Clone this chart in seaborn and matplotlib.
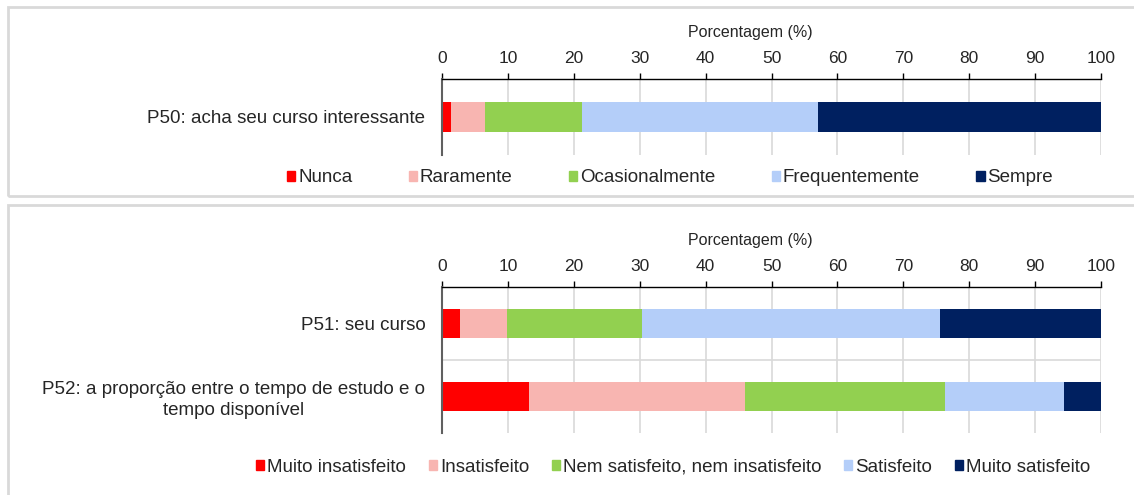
import numpy as np
import pandas as pd
import matplotlib
matplotlib.use('Agg')
import matplotlib.pyplot as plt
import seaborn as sns
from matplotlib.patches import Rectangle, Patch

sns.set_theme(style="white")
plt.rcParams['font.family'] = ['Liberation Sans', 'DejaVu Sans']
plt.rcParams['font.size'] = 13

# Data (percentages)
freq_levels = ['Nunca', 'Raramente', 'Ocasionalmente', 'Frequentemente', 'Sempre']
freq_items = ['P50: acha seu curso interessante']
p50_values = [1.4, 5.2, 14.7, 35.8, 42.9]

sat_levels = ['Muito insatisfeito', 'Insatisfeito', 'Nem satisfeito, nem insatisfeito',
              'Satisfeito', 'Muito satisfeito']
sat_items = ['P51: seu curso',
             'P52: a proporção entre o tempo de estudo e o\ntempo disponível']
p51_values = [2.8, 7.0, 20.5, 45.3, 24.4]
p52_values = [13.2, 32.8, 30.4, 18.0, 5.6]

colors = ['#FF0000', '#F8B5B1', '#92D050', '#B4CEF9', '#002060']
x_ticks = list(range(0, 101, 10))
x_label = 'Porcentagem (%)'

W, H = 1134, 495
fig = plt.figure(figsize=(W / 100, H / 100), dpi=100)


def draw_panel(ax, items, rows, levels, label_y):
    df = pd.DataFrame(rows, columns=levels)
    cum = df[levels].cumsum(axis=1)
    cum['item'] = items
    # stacked bars: draw cumulative totals from the largest down
    for lvl, col in reversed(list(zip(levels, colors))):
        sns.barplot(data=cum, x=lvl, y='item', order=items, color=col,
                    orient='h', width=0.4, saturation=1, errorbar=None,
                    linewidth=0, ax=ax)
    ax.set_xlim(0, 100)
    ax.set_xticks(x_ticks)
    ax.xaxis.tick_top()
    ax.xaxis.set_label_position('top')
    ax.set_xlabel(x_label, fontsize=11.5, color='#262626')
    ax.xaxis.set_label_coords((750 - 442) / 659, label_y)
    ax.xaxis.label.set_va('center')
    ax.set_ylabel('')
    ax.grid(axis='x', color='#d9d9d9', lw=1.2)
    ax.set_axisbelow(True)
    for s in ['right', 'bottom']:
        ax.spines[s].set_visible(False)
    ax.spines['top'].set_color('black')
    ax.spines['top'].set_linewidth(1)
    ax.spines['left'].set_color('#606060')
    ax.spines['left'].set_linewidth(1.5)
    ax.tick_params(axis='x', top=True, bottom=False, direction='out', length=4,
                   width=1, color='black', pad=5.5, labelsize=12.5, labelcolor='#262626')
    ax.tick_params(axis='y', length=0, pad=12, labelsize=13.5, labelcolor='#262626')
    for t in ax.get_yticklabels():
        t.set_multialignment('center')
        t.set_linespacing(1.25)


def fx(px):
    return px / W


def fy(px):
    return 1 - px / H


# panel frames
for top, bot in [(7, 196), (205, 500)]:
    fig.patches.append(Rectangle((fx(8), fy(bot)), 1.2, (bot - top) / H, fill=False,
                                 edgecolor='#d9d9d9', lw=2, transform=fig.transFigure))

ax1 = fig.add_axes([fx(442), fy(155), fx(1101 - 442), (155 - 78.7) / H])
draw_panel(ax1, freq_items, [p50_values], freq_levels, (155 - 33) / (155 - 78.7))

ax2 = fig.add_axes([fx(442), fy(433), fx(1101 - 442), (433 - 286.7) / H])
draw_panel(ax2, sat_items, [p51_values, p52_values], sat_levels, (433 - 240) / (433 - 286.7))
ax2.axhline(0.5, color='#d9d9d9', lw=1.2, zorder=0)

fig.legend(handles=[Patch(color=c, label=l) for l, c in zip(freq_levels, colors)],
           loc='center', bbox_to_anchor=(fx(670), fy(178)), ncol=5, frameon=False,
           handlelength=0.45, handleheight=0.45, handletextpad=0.15,
           columnspacing=3.0, fontsize=13.5, labelcolor='#262626')
fig.legend(handles=[Patch(color=c, label=l) for l, c in zip(sat_levels, colors)],
           loc='center', bbox_to_anchor=(fx(673), fy(467)), ncol=5, frameon=False,
           handlelength=0.45, handleheight=0.45, handletextpad=0.15,
           columnspacing=1.2, fontsize=13.5, labelcolor='#262626')

fig.savefig('out.png', dpi=100)
